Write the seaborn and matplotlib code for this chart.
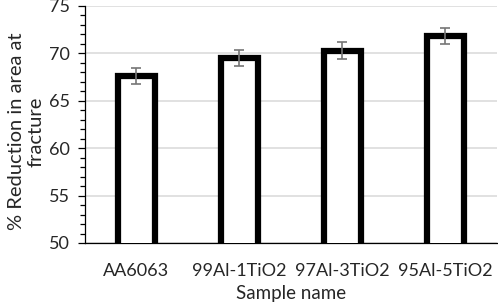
import matplotlib
matplotlib.use("Agg")
import matplotlib.pyplot as plt
import seaborn as sns
import pandas as pd
import numpy as np
from matplotlib.ticker import MultipleLocator

samples = ["AA6063", "99Al-1TiO2", "97Al-3TiO2", "95Al-5TiO2"]
reduction = [67.6, 69.5, 70.3, 71.8]
errors = [0.88, 0.88, 0.88, 0.86]

df = pd.DataFrame({"Sample name": samples, "Reduction": reduction})

sns.set_theme(style="white")
plt.rcParams["font.family"] = ["Lato", "DejaVu Sans"]

fig = plt.figure(figsize=(4.98, 3.04), dpi=100)
ax = fig.add_axes([0.1707, 0.2007, 0.827, 0.7796])

ax.yaxis.grid(True, color="#d9d9d9", linewidth=1.1, zorder=0)
ax.set_axisbelow(True)

sns.barplot(data=df, x="Sample name", y="Reduction", ax=ax, color="white",
            edgecolor="black", linewidth=4.5, width=0.36, errorbar=None,
            saturation=1, zorder=3)
ax.errorbar(x=np.arange(len(samples)), y=reduction, yerr=errors, fmt="none",
            ecolor="#767676", elinewidth=1.2, capsize=3.5, capthick=1.2, zorder=4)

ax.set_ylim(50, 75)
ax.set_xlim(-0.5, len(samples) - 0.5)
ax.yaxis.set_major_locator(MultipleLocator(5))
ax.yaxis.set_minor_locator(MultipleLocator(1))
ax.tick_params(axis="y", which="major", length=5, width=0.9, color="black",
               direction="out", labelsize=13, pad=6, left=True)
ax.tick_params(axis="y", which="minor", length=3.5, width=0.9, color="black",
               direction="out", left=True)
ax.tick_params(axis="x", length=0, labelsize=13, pad=14.5)

for s in ["top", "right"]:
    ax.spines[s].set_visible(False)
ax.spines["left"].set_color("black")
ax.spines["left"].set_linewidth(0.9)
ax.spines["bottom"].set_color("black")
ax.spines["bottom"].set_linewidth(0.9)

ax.set_ylabel("% Reduction in area at\nfracture", fontsize=14.5,
              linespacing=1.2)
ax.yaxis.set_label_coords(-0.098, 0.47)
ax.set_xlabel("Sample name", fontsize=13.5, labelpad=4)

fig.savefig("out.png", dpi=100)
